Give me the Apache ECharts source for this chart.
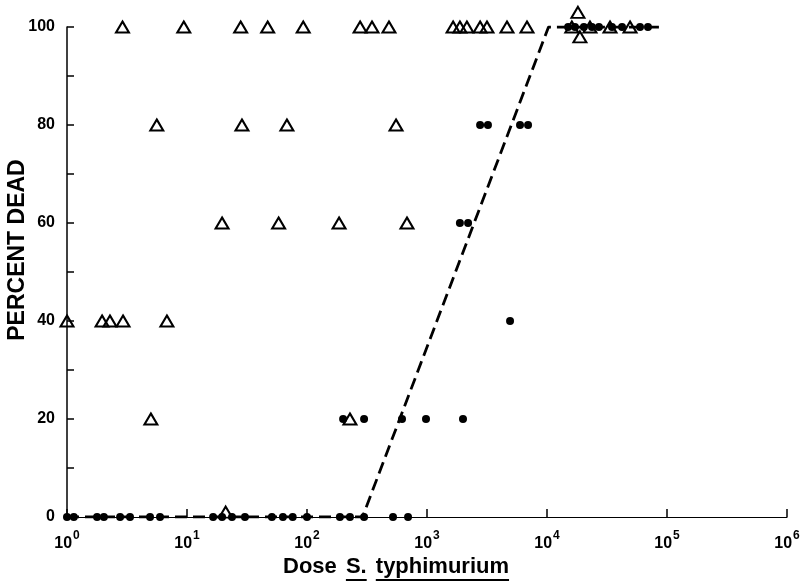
<!DOCTYPE html>
<html>
<head>
<meta charset="utf-8">
<script src="https://cdn.jsdelivr.net/npm/echarts@6/dist/echarts.min.js"></script>
<style>
  html, body { margin: 0; padding: 0; background: #fff; }
  #chart { width: 807px; height: 585px; }
</style>
</head>
<body>
<div id="chart"></div>
<script>
// doses (organisms) and percent dead
const triDose = [2.9, 9.4, 28, 47, 93, 277, 348, 482, 1650, 1880, 2150, 2770, 3160, 4640, 6810,
                 16100, 18100, 18800, 22800, 33500, 49200,
                 5.6, 28.7, 68, 552,
                 19.6, 58, 185, 681,
                 1.0, 1.96, 2.28, 2.93, 6.8,
                 5.0, 228,
                 21];
const triPct = [100, 100, 100, 100, 100, 100, 100, 100, 100, 100, 100, 100, 100, 100, 100,
                100, 103, 98, 100, 100, 100,
                80, 80, 80, 80,
                60, 60, 60, 60,
                40, 40, 40, 40, 40,
                20, 20,
                1];

const dotDose = [15000, 17100, 20300, 23700, 27100, 34800, 42200, 59600, 69400,
                 2770, 3220, 5960, 6950,
                 1880, 2200,
                 4920,
                 200, 299, 619, 981, 1995,
                 1.0, 1.14, 1.78, 2.03, 2.77, 3.35, 4.92, 5.96, 16.5, 19.6, 23.7, 30.4,
                 51, 63, 76, 100, 188, 228, 299, 521, 695];
const dotPct = [100, 100, 100, 100, 100, 100, 100, 100, 100,
                80, 80, 80, 80,
                60, 60,
                40,
                20, 20, 20, 20, 20,
                0, 0, 0, 0, 0, 0, 0, 0, 0, 0, 0, 0,
                0, 0, 0, 0, 0, 0, 0, 0, 0];

// fitted dashed curve
const fitDose = [1, 290, 10300, 87000];
const fitPct = [0, 0, 100, 100];

const xExponents = ['0', '1', '2', '3', '4', '5', '6'];
const yLabels = [0, 20, 40, 60, 80, 100];

const FONT = '"Liberation Sans", Arial, sans-serif';

const chart = echarts.init(document.getElementById('chart'), null, { renderer: 'canvas' });

const zip = (xs, ys) => xs.map((x, i) => [x, ys[i]]);

// x title pieces with underlines
const ctx = document.createElement('canvas').getContext('2d');
ctx.font = 'bold 22px ' + FONT;
const titleParts = [
  { t: 'Dose', u: false },
  { t: 'S.', u: true },
  { t: 'typhimurium', u: true }
];
const titleGraphics = [];
let tx = 283;
titleParts.forEach(p => {
  const w = ctx.measureText(p.t).width;
  titleGraphics.push({
    type: 'text', x: tx, y: 567,
    style: { text: p.t, font: 'bold 22px ' + FONT, fill: '#000', textAlign: 'left', textVerticalAlign: 'middle' }
  });
  if (p.u) {
    titleGraphics.push({ type: 'rect', shape: { x: tx, y: 579, width: w, height: 2 }, style: { fill: '#000' } });
  }
  tx += w + ctx.measureText(' ').width + 3;
});

const option = {
  backgroundColor: '#fff',
  animation: false,
  grid: { left: 67, right: 20, top: 27, bottom: 68, containLabel: false },
  xAxis: {
    type: 'log',
    logBase: 10,
    min: 1,
    max: 1e6,
    axisLine: { show: true, lineStyle: { color: '#000', width: 1.2 } },
    axisTick: { show: true, inside: true, length: 8, lineStyle: { color: '#000', width: 1.5 } },
    minorTick: { show: false },
    splitLine: { show: false },
    axisLabel: {
      margin: 13,
      formatter: v => '{b|10}{s|' + xExponents[Math.round(Math.log10(v))] + '}',
      rich: {
        b: { fontFamily: FONT, fontWeight: 'bold', fontSize: 16, color: '#000', lineHeight: 22, verticalAlign: 'bottom' },
        s: { fontFamily: FONT, fontWeight: 'bold', fontSize: 12, color: '#000', lineHeight: 10, verticalAlign: 'top', padding: [0, 0, 0, 1] }
      }
    }
  },
  yAxis: {
    type: 'value',
    min: 0,
    max: 100,
    interval: 10,
    axisLine: { show: true, lineStyle: { color: '#000', width: 1.5 } },
    axisTick: { show: true, inside: true, length: 7, lineStyle: { color: '#000', width: 1.5 } },
    splitLine: { show: false },
    axisLabel: {
      margin: 12,
      fontFamily: FONT,
      fontWeight: 'bold',
      fontSize: 16,
      color: '#000',
      formatter: v => (yLabels.indexOf(v) >= 0 ? String(v) : '')
    }
  },
  graphic: [
    {
      type: 'text', x: 18, y: 250, rotation: Math.PI / 2,
      style: { text: 'PERCENT DEAD', font: 'bold 23px ' + FONT, fill: '#000', textAlign: 'center', textVerticalAlign: 'middle' }
    }
  ].concat(titleGraphics),
  series: [
    {
      type: 'line',
      data: zip(fitDose, fitPct),
      symbol: 'none',
      lineStyle: { color: '#000', width: 2.8, type: [12, 6] },
      z: 1
    },
    {
      type: 'scatter',
      data: zip(dotDose, dotPct),
      symbol: 'circle',
      symbolSize: 8,
      clip: false,
      itemStyle: { color: '#000', opacity: 1 },
      z: 2
    },
    {
      type: 'scatter',
      data: zip(triDose, triPct),
      symbol: 'triangle',
      symbolSize: [13, 11],
      clip: false,
      itemStyle: { color: 'rgba(255,255,255,0)', borderColor: '#000', borderWidth: 2, opacity: 1 },
      z: 3
    }
  ]
};

chart.setOption(option);
window.addEventListener('resize', () => chart.resize());
</script>
</body>
</html>
